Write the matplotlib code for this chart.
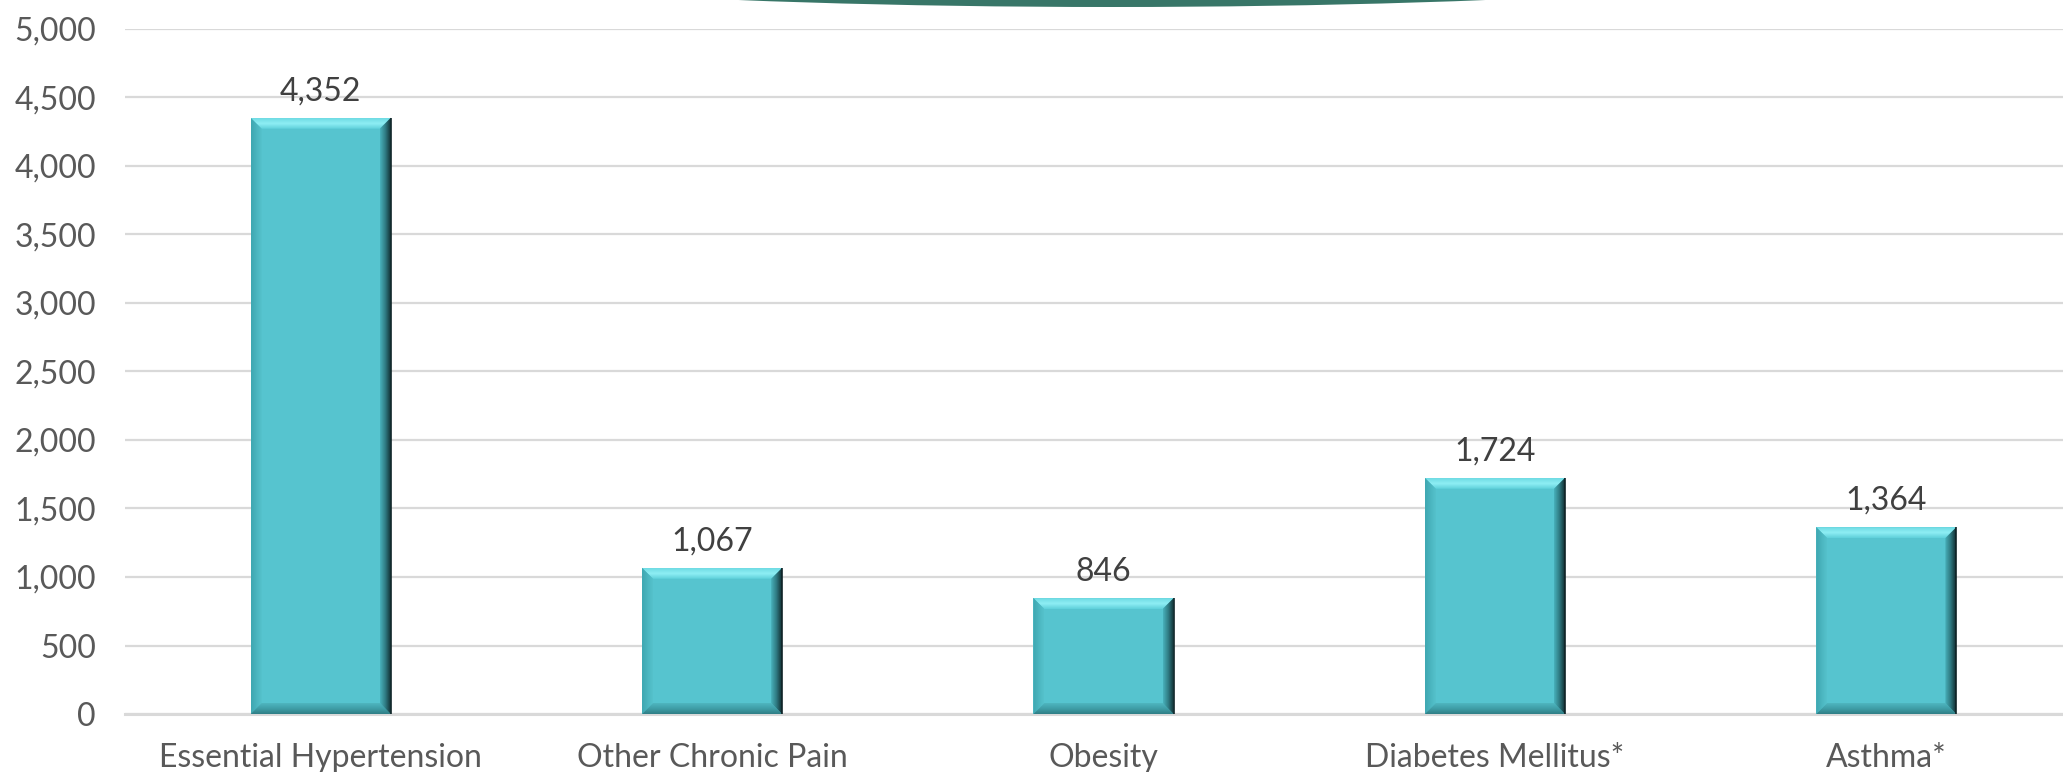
import numpy as np
import matplotlib
matplotlib.use("Agg")
import matplotlib.pyplot as plt
from matplotlib.patches import Polygon, Ellipse
from matplotlib.colors import LinearSegmentedColormap
from matplotlib.ticker import FuncFormatter, MultipleLocator

categories = ["Essential Hypertension", "Other Chronic Pain", "Obesity",
              "Diabetes Mellitus*", "Asthma*"]
values = [4352, 1067, 846, 1724, 1364]
y_max = 5000
y_step = 500

TEXT = "#595959"
LABEL = "#404040"
GRID = "#d9d9d9"
FACE = "#56c4cf"
FS = 23

plt.rcParams["font.family"] = ["Lato", "DejaVu Sans"]

W, H, DPI = 2063, 772, 100
fig = plt.figure(figsize=(W / DPI, H / DPI), dpi=DPI)
fig.patch.set_facecolor("white")

# plot area; the right end runs past the canvas edge
left_px, right_px, top_px, bottom_px = 125, 2082, 29, 714
ax = fig.add_axes([left_px / W, (H - bottom_px) / H,
                   (right_px - left_px) / W, (bottom_px - top_px) / H])

x = np.arange(len(categories))
bar_w = 0.358
bars = ax.bar(x, values, width=bar_w, color=FACE, zorder=3, linewidth=0)

ax.set_xlim(-0.5, len(categories) - 0.5)
ax.set_ylim(0, y_max)
ax.autoscale(False)

ax.yaxis.set_major_locator(MultipleLocator(y_step))
ax.yaxis.set_major_formatter(FuncFormatter(lambda v, p: f"{int(v):,}"))
ax.grid(axis="y", color=GRID, linewidth=1.6, zorder=0)
ax.set_axisbelow(True)
for s in ["top", "right", "left"]:
    ax.spines[s].set_visible(False)
ax.spines["bottom"].set_color(GRID)
ax.spines["bottom"].set_linewidth(2.2)
ax.spines["bottom"].set_zorder(1)

ax.tick_params(axis="y", length=0, pad=21, labelsize=FS, labelcolor=TEXT)
ax.tick_params(axis="x", length=0, pad=21, labelsize=FS, labelcolor=TEXT)
ax.set_xticks(x)
ax.set_xticklabels(categories)

# bevel size in pixels converted to data units
px_x = (right_px - left_px) / (len(categories))
px_y = (bottom_px - top_px) / y_max
bev_px = 11
bx = bev_px / px_x
by = bev_px / px_y


def grad_fill(poly_pts, extent, colors, horizontal):
    cmap = LinearSegmentedColormap.from_list("g", colors)
    n = 64
    g = np.linspace(0, 1, n)
    arr = g[None, :] if horizontal else g[:, None]
    poly = Polygon(poly_pts, closed=True, facecolor="none", edgecolor="none",
                   transform=ax.transData)
    ax.add_patch(poly)
    im = ax.imshow(arr, cmap=cmap, extent=extent, origin="lower",
                   aspect="auto", interpolation="bilinear", zorder=4)
    im.set_clip_path(poly)


for rect in bars:
    x0 = rect.get_x()
    w = rect.get_width()
    y0 = rect.get_y()
    h = rect.get_height()
    x1, y1 = x0 + w, y0 + h
    # top bevel: lighter highlight
    grad_fill([(x0, y1), (x1, y1), (x1 - bx, y1 - by), (x0 + bx, y1 - by)],
              [x0, x1, y1 - by, y1], ["#5fd0da", "#8eeef4", "#6fdbe3"], False)
    # left bevel
    grad_fill([(x0, y0), (x0 + bx, y0 + by), (x0 + bx, y1 - by), (x0, y1)],
              [x0, x0 + bx, y0, y1], ["#3fa7b1", "#55c2cc"], True)
    # bottom bevel: shaded
    grad_fill([(x0, y0), (x1, y0), (x1 - bx, y0 + by), (x0 + bx, y0 + by)],
              [x0, x1, y0, y0 + by], ["#2f7e86", "#3f9ea7", "#4fb6c0"], False)
    # right bevel: dark edge
    grad_fill([(x1, y0), (x1, y1), (x1 - bx, y1 - by), (x1 - bx, y0 + by)],
              [x1 - bx, x1, y0, y1], ["#48b1bb", "#2f7a82", "#122f33"], True)
    ax.plot([x1, x1], [y0, y1], color="#0f2427", linewidth=1.2, zorder=5,
            solid_capstyle="butt")

for xi, v in zip(x, values):
    ax.annotate(f"{v:,}", (xi, v), xytext=(0, 8), textcoords="offset points",
                ha="center", va="bottom", fontsize=FS, color=LABEL, zorder=6)

# title banner edge peeking in at the top
fig.patches.append(Ellipse((1112 / W, 1 + 53 / H), 1600 / W, 120 / H,
                           transform=fig.transFigure, facecolor="#387668",
                           edgecolor="none", zorder=10))

fig.savefig("out.png", dpi=DPI, facecolor="white")
